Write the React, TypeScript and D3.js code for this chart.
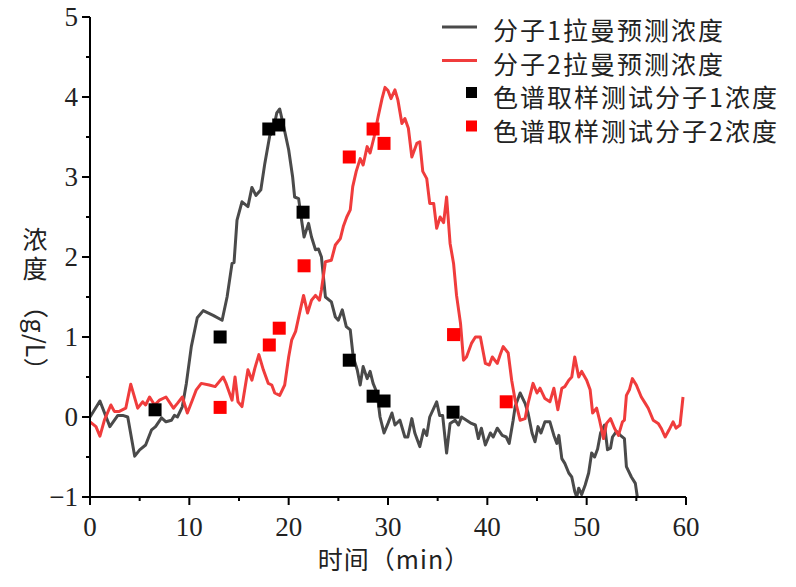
import React from "react";
import * as d3 from "d3";

const time1 = [0,1.0,2.0,2.8,3.3,3.8,4.5,5.0,5.6,6.2,6.6,7.2,7.65,8.2,8.5,8.8,9.3,9.7,10.2,10.8,11.4,12.4,13.3,13.8,14.3,14.5,14.8,15.3,15.9,16.3,16.7,17.2,17.6,18.1,18.4,18.8,19.1,19.5,20.0,20.4,20.6,21.0,21.3,21.55,22.0,22.3,22.7,23.0,23.3,23.7,24.3,24.7,25.0,25.4,25.8,26.2,26.5,26.9,27.2,27.5,27.9,28.2,28.5,28.9,29.2,29.6,30.0,30.4,30.7,31.2,31.7,32.0,32.4,32.7,33.2,33.6,33.9,34.2,34.9,35.2,35.5,35.9,36.25,36.75,37.1,37.4,38.4,38.8,39.1,39.4,39.8,40.3,40.6,41.0,41.5,41.9,42.2,42.6,42.8,43.3,43.8,44.1,44.5,44.8,45.1,45.4,45.8,46.3,46.7,47.0,47.2,47.5,47.8,48.2,48.5,48.8,49.0,49.2,49.5,49.85,50.2,50.5,50.8,51.1,51.4,51.8,52.1,52.4,52.6,53.0,53.4,53.8,54.0,54.5,54.9,55.1];
const conc1 = [0.0,0.2,-0.12,0.02,0.02,0.0,-0.49,-0.41,-0.35,-0.16,-0.12,-0.01,-0.06,-0.04,0.02,0.0,0.13,0.42,0.88,1.24,1.33,1.27,1.21,1.5,1.92,1.93,2.46,2.69,2.63,2.87,2.77,2.84,3.17,3.52,3.56,3.8,3.85,3.63,3.34,3.0,2.75,2.73,2.46,2.25,2.42,2.25,2.09,2.1,2.0,1.5,1.44,1.25,1.21,1.34,1.13,1.09,0.75,0.59,0.4,0.63,0.48,0.57,0.42,0.3,0.0,-0.2,-0.08,0.05,-0.1,-0.04,-0.25,-0.25,-0.02,-0.2,-0.37,-0.16,-0.23,0.0,0.19,0.02,0.02,-0.45,-0.08,-0.04,-0.1,0.0,-0.08,-0.1,-0.27,-0.14,-0.35,-0.2,-0.25,-0.14,-0.23,-0.25,-0.33,-0.04,0.13,0.3,0.17,0.05,-0.2,-0.31,-0.12,-0.2,-0.06,-0.06,-0.23,-0.33,-0.23,-0.52,-0.58,-0.7,-0.75,-0.93,-1.0,-0.89,-0.97,-0.85,-0.7,-0.45,-0.5,-0.4,-0.2,-0.1,-0.41,-0.39,-0.25,-0.18,-0.23,-0.27,-0.62,-0.75,-0.83,-1.0];

const time2 = [0,0.6,1.0,1.45,2.1,2.45,2.95,3.6,4.1,4.8,5.3,5.6,6.0,6.5,7.0,7.65,8.4,8.8,9.3,9.8,10.3,10.7,11.2,12.0,12.6,13.4,13.7,14.3,14.6,14.9,15.3,15.9,16.3,16.6,17.0,17.45,17.95,18.3,18.6,19.1,19.6,20.0,20.3,20.7,21.1,21.5,21.9,22.3,22.7,23.1,23.3,23.7,24.3,24.7,25.2,25.5,25.85,26.2,26.45,26.8,27.2,27.5,27.9,28.2,28.6,29.0,29.4,29.7,30.0,30.3,30.7,31.0,31.4,31.7,32.05,32.4,32.9,33.2,33.5,33.9,34.2,34.6,34.9,35.25,35.6,35.9,36.25,36.6,36.9,37.3,37.6,37.9,38.4,38.8,39.3,39.8,40.2,40.5,41.0,41.3,41.6,42.1,42.45,42.8,43.3,43.8,44.1,44.6,45.0,45.3,45.8,46.3,46.7,47.1,47.5,47.8,48.2,48.5,48.8,49.2,49.5,50.0,50.35,50.6,51.0,51.3,51.7,52.0,52.4,52.8,53.2,53.6,53.8,54.0,54.3,54.6,55.0,55.5,55.9,56.2,56.7,57.2,57.5,57.9,58.3,58.7,59.0,59.4,59.7];
const conc2 = [-0.06,-0.12,-0.24,-0.04,0.15,0.07,0.07,0.11,0.41,0.11,0.19,0.15,0.25,0.15,0.21,0.25,0.11,0.17,0.25,0.05,0.21,0.34,0.42,0.4,0.38,0.5,0.42,0.21,0.5,0.19,0.13,0.59,0.46,0.61,0.78,0.59,0.42,0.4,0.3,0.27,0.4,0.75,0.96,1.07,1.3,1.52,1.3,1.46,1.52,1.46,1.59,1.94,1.96,2.15,2.23,2.38,2.5,2.59,2.88,3.07,3.23,3.15,3.38,3.3,3.5,3.75,3.98,4.12,4.08,3.98,4.09,3.96,3.67,3.73,3.61,3.25,3.42,3.44,3.07,2.98,2.67,2.67,2.36,2.5,2.43,2.75,2.17,1.92,1.52,1.17,0.71,0.75,0.92,1.0,1.0,0.67,0.65,0.75,0.67,0.78,0.88,0.8,0.46,0.21,-0.04,-0.02,0.17,0.42,0.3,0.36,0.23,0.19,0.36,0.09,0.36,0.38,0.46,0.5,0.75,0.5,0.57,0.46,0.34,0.05,0.11,-0.04,-0.27,-0.08,-0.02,-0.14,-0.23,-0.06,-0.04,0.27,0.34,0.48,0.4,0.25,0.17,0.11,-0.04,-0.08,-0.14,-0.25,-0.16,-0.06,-0.14,-0.1,0.25];

const sampleTime1 = [6.55,13.1,18.0,19.0,21.45,26.1,28.5,29.6,36.55];
const sampleConc1 = [0.09,1.0,3.6,3.65,2.56,0.71,0.26,0.2,0.06];
const sampleTime2 = [13.1,18.05,19.05,21.55,26.1,28.5,29.6,36.6,41.9];
const sampleConc2 = [0.12,0.9,1.11,1.89,3.25,3.6,3.42,1.03,0.19];

const xTicks = [0,10,20,30,40,50,60];
const xMinor = [5,15,25,35,45,55];
const yTicks = [-1,0,1,2,3,4,5];
const yMinor = [-0.5,0.5,1.5,2.5,3.5,4.5];

const legendLabels = ["分子1拉曼预测浓度","分子2拉曼预测浓度","色谱取样测试分子1浓度","色谱取样测试分子2浓度"];
const xTitle = "时间（min）";
const yTitleMain = "浓度";
const yTitleUnit = "（g/L）";

const C1 = "#4a4a4a";
const C2 = "#f03c3c";
const CJK = "'Noto Sans CJK SC', 'Noto Sans', sans-serif";
const SERIF = "'Liberation Serif', 'Times New Roman', serif";

export default function App() {
  const W = 796, H = 587;
  const x = d3.scaleLinear().domain([0, 60]).range([90, 686]);
  const y = d3.scaleLinear().domain([-1, 5]).range([497, 17]);
  const line = d3.line<[number, number]>().x(d => x(d[0])).y(d => y(d[1]));
  const s1 = time1.map((t, i) => [t, conc1[i]] as [number, number]);
  const s2 = time2.map((t, i) => [t, conc2[i]] as [number, number]);
  const sq = 13;
  const fmt = (v: number) => (v < 0 ? "\u2212" + Math.abs(v) : String(v));

  return (
    <svg width={W} height={H} style={{ position: "absolute", left: 0, top: 0, background: "#fff" }}>
      <defs>
        <clipPath id="plot"><rect x={90} y={10} width={600} height={487} /></clipPath>
      </defs>
      <g clipPath="url(#plot)">
        <path d={line(s1) || ""} fill="none" stroke={C1} strokeWidth={3} strokeLinejoin="round" />
        <path d={line(s2) || ""} fill="none" stroke={C2} strokeWidth={3} strokeLinejoin="round" />
      </g>
      {sampleTime1.map((t, i) => (
        <rect key={"a" + i} x={x(t) - sq / 2} y={y(sampleConc1[i]) - sq / 2} width={sq} height={sq} fill="#000" />
      ))}
      {sampleTime2.map((t, i) => (
        <rect key={"b" + i} x={x(t) - sq / 2} y={y(sampleConc2[i]) - sq / 2} width={sq} height={sq} fill="#ff0000" />
      ))}
      {/* axes */}
      <line x1={90} x2={90} y1={y(5)} y2={y(-1) + 1} stroke="#000" strokeWidth={2} />
      <line x1={89} x2={x(60)} y1={497} y2={497} stroke="#000" strokeWidth={2} />
      {yTicks.map(v => (
        <g key={"yt" + v}>
          <line x1={82} x2={90} y1={y(v)} y2={y(v)} stroke="#000" strokeWidth={2} />
          <text x={78} y={y(v) + 9} textAnchor="end" fontFamily={SERIF} fontSize={27} fill="#222">{fmt(v)}</text>
        </g>
      ))}
      {yMinor.map(v => (
        <line key={"ym" + v} x1={86} x2={90} y1={y(v)} y2={y(v)} stroke="#000" strokeWidth={2} />
      ))}
      {xTicks.map(v => (
        <g key={"xt" + v}>
          <line x1={x(v)} x2={x(v)} y1={497} y2={505} stroke="#000" strokeWidth={2} />
          <text x={x(v)} y={536} textAnchor="middle" fontFamily={SERIF} fontSize={27} fill="#222">{v}</text>
        </g>
      ))}
      {xMinor.map(v => (
        <line key={"xm" + v} x1={x(v)} x2={x(v)} y1={497} y2={501} stroke="#000" strokeWidth={2} />
      ))}
      <text x={394} y={569} textAnchor="middle" fontFamily={CJK} fontSize={25} letterSpacing={1} fill="#222">{xTitle}</text>
      {/* y title */}
      <text x={35} y={227} fontFamily={CJK} fontSize={25} letterSpacing={4} fill="#222" style={{ writingMode: "vertical-rl" }}>{yTitleMain}</text>
      <text transform="translate(26,338) rotate(90)" textAnchor="middle" fontFamily={CJK} fontSize={25} fill="#222">{yTitleUnit}</text>
      {/* legend */}
      {legendLabels.map((lab, i) => {
        const cy = 31 + i * 33.5;
        return (
          <g key={"lg" + i}>
            {i < 2 ? (
              <line x1={442} x2={477} y1={cy - 4} y2={cy - 4} stroke={i === 0 ? C1 : C2} strokeWidth={3} />
            ) : (
              <rect x={466} y={cy - 11} width={11} height={11} fill={i === 2 ? "#000" : "#ff0000"} />
            )}
            <text x={493} y={cy + 9} fontFamily={CJK} fontSize={25} letterSpacing={2} fill="#222">{lab}</text>
          </g>
        );
      })}
    </svg>
  );
}
